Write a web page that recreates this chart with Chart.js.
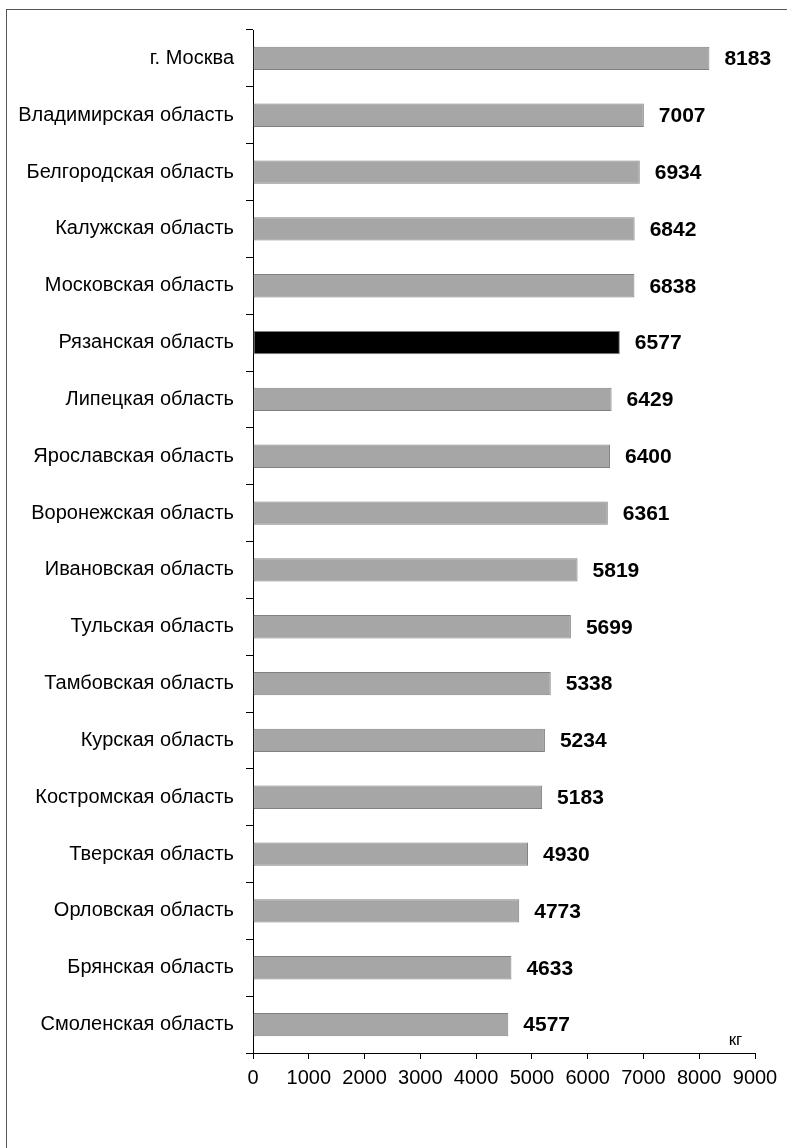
<!DOCTYPE html>
<html>
<head>
<meta charset="utf-8">
<script src="https://cdn.jsdelivr.net/npm/chart.js@4/dist/chart.umd.min.js"></script>
<style>
  html, body { margin: 0; padding: 0; background: #fff; }
  #wrap { position: relative; width: 787px; height: 1148px; overflow: hidden; }
  #frame { position: absolute; left: 6px; top: 9px; width: 900px; height: 1300px; border: 1px solid #555; box-sizing: border-box; }
  canvas { position: absolute; left: 0; top: 0; }
</style>
</head>
<body>
<div id="wrap">
  <div id="frame"></div>
  <canvas id="c" width="787" height="1148"></canvas>
</div>
<script>
const categories = [
  "г. Москва",
  "Владимирская область",
  "Белгородская область",
  "Калужская область",
  "Московская область",
  "Рязанская область",
  "Липецкая область",
  "Ярославская область",
  "Воронежская область",
  "Ивановская область",
  "Тульская область",
  "Тамбовская область",
  "Курская область",
  "Костромская область",
  "Тверская область",
  "Орловская область",
  "Брянская область",
  "Смоленская область"
];
const values = [8183, 7007, 6934, 6842, 6838, 6577, 6429, 6400, 6361, 5819, 5699, 5338, 5234, 5183, 4930, 4773, 4633, 4577];
const highlighted = "Рязанская область";
const unitLabel = "кг";
const xMin = 0, xMax = 9000, xStep = 1000;

const FONT = "'Liberation Sans', Arial, sans-serif";

const valueLabels = {
  id: 'valueLabels',
  afterDatasetsDraw(chart) {
    const ctx = chart.ctx;
    const meta = chart.getDatasetMeta(0);
    ctx.save();
    ctx.font = "bold 21px " + FONT;
    ctx.fillStyle = "#000";
    ctx.textAlign = "left";
    ctx.textBaseline = "middle";
    meta.data.forEach((el, i) => {
      ctx.fillText(String(values[i]), el.x + 15, el.y + 1);
    });
    const xs = chart.scales.x;
    ctx.font = "17px " + FONT;
    ctx.textAlign = "center";
    ctx.textBaseline = "bottom";
    ctx.fillText(unitLabel, xs.getPixelForValue(8650), chart.chartArea.bottom - 4);
    ctx.restore();
  }
};

new Chart(document.getElementById('c'), {
  type: 'bar',
  data: {
    labels: categories,
    datasets: [{
      data: values,
      backgroundColor: categories.map(c => c === highlighted ? '#000000' : '#a6a6a6'),
      borderColor: '#808080',
      borderWidth: 1,
      borderSkipped: false,
      barPercentage: 0.41,
      categoryPercentage: 1.0
    }]
  },
  options: {
    indexAxis: 'y',
    responsive: false,
    animation: false,
    devicePixelRatio: 1,
    layout: { padding: { left: 0, right: 32, top: 30, bottom: 35 } },
    plugins: { legend: { display: false }, tooltip: { enabled: false } },
    scales: {
      y: {
        offset: true,
        afterFit(scale) { scale.width = 253; },
        grid: { offset: true, drawOnChartArea: false, drawTicks: true, tickLength: 7, color: '#000', lineWidth: 1 },
        border: { display: true, color: '#000', width: 1 },
        ticks: { color: '#000', font: { family: FONT, size: 20 }, padding: 12, autoSkip: false }
      },
      x: {
        min: xMin, max: xMax,
        afterFit(scale) { scale.height = 60; },
        grid: { drawOnChartArea: false, drawTicks: true, tickLength: 6, color: '#000', lineWidth: 1 },
        border: { display: true, color: '#000', width: 1 },
        ticks: { stepSize: xStep, color: '#000', font: { family: FONT, size: 20 }, padding: 7, maxRotation: 0,
                 callback: (v) => String(v) }
      }
    }
  },
  plugins: [valueLabels]
});
</script>
</body>
</html>
